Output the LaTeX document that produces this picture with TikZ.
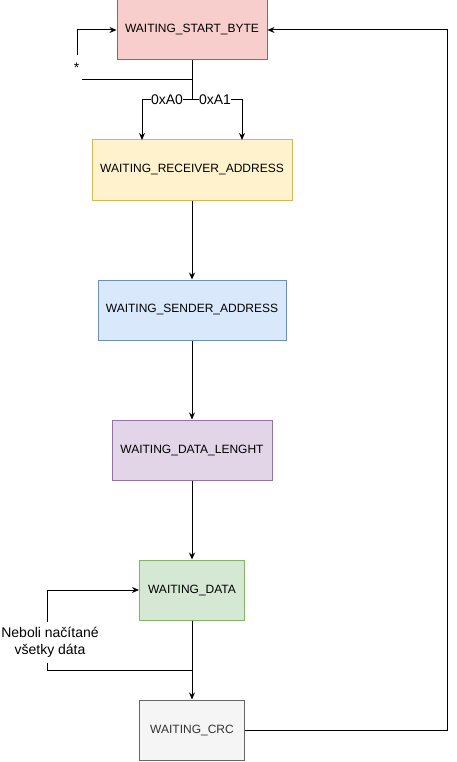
\documentclass[tikz,border=0pt]{standalone}
\usepackage{fontspec}
\setmainfont{Liberation Sans}
\usetikzlibrary{arrows.meta}
\definecolor{redfill}{HTML}{F8CECC}
\definecolor{redline}{HTML}{B85450}
\definecolor{yellowfill}{HTML}{FFF2CC}
\definecolor{yellowline}{HTML}{D6B656}
\definecolor{bluefill}{HTML}{DAE8FC}
\definecolor{blueline}{HTML}{6C8EBF}
\definecolor{purplefill}{HTML}{E1D5E7}
\definecolor{purpleline}{HTML}{9673A6}
\definecolor{greenfill}{HTML}{D5E8D4}
\definecolor{greenline}{HTML}{82B366}
\definecolor{grayfill}{HTML}{F5F5F5}
\definecolor{grayline}{HTML}{666666}
\definecolor{graytext}{HTML}{333333}

\begin{document}
\begin{tikzpicture}[%
      x=1pt, y=-1pt,
      line width=1pt,
      >={Stealth[length=7pt,width=6pt]},
      state/.style={draw, minimum height=60pt, inner sep=0pt, font=\fontsize{12}{14}\selectfont},
      lbl/.style={fill=white, inner sep=0pt, font=\fontsize{14}{17}\selectfont},
      ]
      \useasboundingbox (0,0) rectangle (457,762);

      \node [state, minimum width=150pt, fill=redfill, draw=redline] (start) at (192,30) {WAITING\_START\_BYTE};
      \node [state, minimum width=200pt, fill=yellowfill, draw=yellowline] (recv) at (192,170) {WAITING\_RECEIVER\_ADDRESS};
      \node [state, minimum width=188pt, fill=bluefill, draw=blueline] (send) at (192,310) {WAITING\_SENDER\_ADDRESS};
      \node [state, minimum width=160pt, fill=purplefill, draw=purpleline] (len) at (192,450) {WAITING\_DATA\_LENGHT};
      \node [state, minimum width=105pt, fill=greenfill, draw=greenline] (data) at (192,590) {WAITING\_DATA};
      \node [state, minimum width=105pt, fill=grayfill, draw=grayline, text=graytext] (crc) at (192,730) {WAITING\_CRC};

      \coordinate (split) at (192,80);
      \coordinate (fork) at (192,100);
      \coordinate (loopA) at (77,80);
      \coordinate (loopB) at (77,30);
      \coordinate (recvA) at (142,140);
      \coordinate (recvB) at (242,140);
      \coordinate (dleft) at (47,670);
      \coordinate (rtop) at (447,30);

      \draw [->] (start.south) -- (split) -- (loopA) -- (loopB) -- (start.west);
      \node [lbl, minimum width=11pt, minimum height=26pt] (star) at (76.5,68) {*};
      \draw (split) -- (fork);
      \draw [->] (fork) -| (recvA) node [lbl, pos=0.25] (a0) {0xA0};
      \draw [->] (fork) -| (recvB) node [lbl, pos=0.23] (a1) {0xA1};

      \draw [->] (recv.south) -- (send.north);
      \draw [->] (send.south) -- (len.north);
      \draw [->] (len.south) -- (data.north);

      \draw [->] (data.south) |- (dleft) |- (data.west);
      \node [lbl, align=center, minimum height=41pt] (notall) at (50,642.5) {Neboli načítané\\všetky dáta};
      \draw [->] (data.south) -- (crc.north);

      \draw [->] (crc.east) -| (rtop) -- (start.east);
\end{tikzpicture}
\end{document}
